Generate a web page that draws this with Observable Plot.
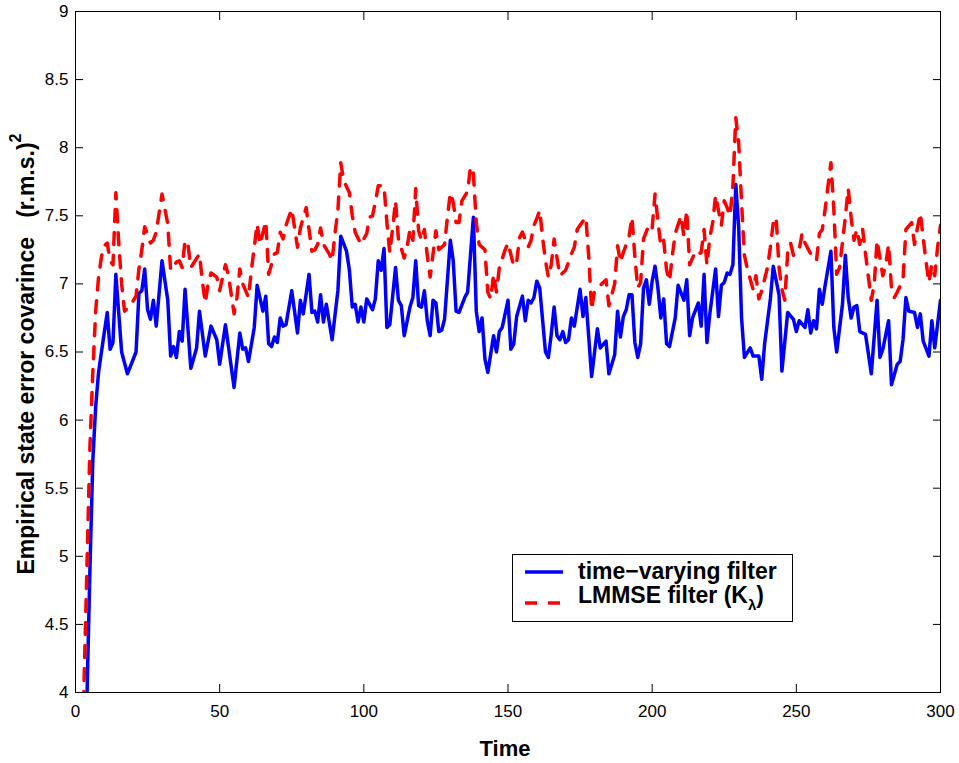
<!DOCTYPE html>
<html>
<head>
<meta charset="utf-8">
<script src="https://cdn.jsdelivr.net/npm/d3@7"></script>
<script src="https://cdn.jsdelivr.net/npm/@observablehq/plot@0.6"></script>
<style>
  html, body { margin: 0; padding: 0; background: #fff; }
  #chart { width: 959px; height: 763px; }
</style>
</head>
<body>
<div id="chart"></div>
<script>
// ---- Data ----
const xTicks = [0, 50, 100, 150, 200, 250, 300];
const yTicks = [4, 4.5, 5, 5.5, 6, 6.5, 7, 7.5, 8, 8.5, 9];

const seriesNames = ["time\u2212varying filter", "LMMSE filter (K", "\u03bb", ")"];

// time-varying filter: [time, value]
const timeVarying = [[1,1.9],[2,2.6],[3,3.3],[4,3.98],[5,4.9],[6,5.7],[7,6.1],[8,6.35],[9,6.5],[11,6.79],[12,6.52],[13,6.57],[14,7.07],[16,6.50],[18,6.34],[21,6.50],[22,6.93],[23,6.95],[24,7.11],[25,6.81],[26,6.74],[27,6.88],[28,6.69],[30,7.17],[32,6.88],[33,6.47],[34,6.54],[35,6.46],[36,6.65],[37,6.58],[38,6.96],[40,6.38],[42,6.53],[43,6.80],[45,6.47],[47,6.69],[49,6.59],[50,6.41],[52,6.70],[55,6.24],[57,6.64],[58,6.52],[59,6.53],[60,6.43],[62,6.68],[63,6.99],[65,6.80],[66,6.91],[67,6.56],[68,6.54],[69,6.61],[70,6.57],[71,6.75],[72,6.69],[73,6.70],[75,6.95],[77,6.64],[78,6.88],[79,6.78],[81,7.07],[82,6.79],[83,6.80],[84,6.72],[85,6.92],[86,6.72],[87,6.85],[89,6.59],[91,6.95],[92,7.35],[94,7.24],[95,7.10],[96,6.83],[97,6.85],[98,6.72],[99,6.83],[100,6.72],[101,6.89],[103,6.81],[104,6.89],[105,7.17],[106,7.10],[107,7.26],[108,6.68],[109,6.70],[111,7.12],[112,6.88],[113,6.84],[114,6.62],[116,6.83],[117,6.90],[118,7.17],[119,6.84],[120,6.83],[121,6.95],[122,6.73],[123,6.62],[124,6.88],[125,6.86],[126,6.65],[127,6.66],[128,6.74],[130,7.32],[131,7.17],[132,6.80],[133,6.79],[135,6.90],[136,6.94],[138,7.49],[139,6.80],[140,6.65],[141,6.75],[142,6.45],[143,6.35],[145,6.62],[146,6.50],[147,6.65],[148,6.68],[150,6.88],[151,6.52],[152,6.56],[153,6.76],[155,6.91],[156,6.73],[157,6.88],[158,6.86],[159,6.90],[160,7.02],[161,6.97],[163,6.50],[164,6.46],[165,6.63],[166,6.83],[167,6.62],[168,6.59],[169,6.65],[170,6.57],[171,6.59],[172,6.75],[173,6.69],[175,6.96],[176,6.76],[177,6.90],[179,6.32],[181,6.67],[182,6.53],[184,6.58],[185,6.34],[187,6.48],[188,6.80],[189,6.61],[190,6.76],[191,6.81],[192,6.92],[193,6.92],[194,6.57],[195,6.46],[196,6.56],[197,6.97],[198,7.03],[199,6.85],[200,7.02],[201,7.13],[202,6.97],[203,6.75],[204,6.89],[205,6.56],[206,6.54],[208,6.75],[209,6.99],[211,6.88],[212,7.03],[213,6.62],[214,6.75],[216,6.86],[217,6.69],[218,7.07],[219,6.57],[220,6.78],[222,7.11],[223,6.76],[224,6.99],[225,7.01],[226,7.08],[227,7.07],[228,7.14],[229,7.73],[230,7.42],[231,6.75],[232,6.46],[234,6.53],[235,6.47],[237,6.47],[238,6.30],[239,6.56],[241,6.89],[242,7.13],[244,6.92],[245,6.36],[247,6.79],[249,6.74],[250,6.65],[251,6.73],[253,6.68],[254,6.81],[255,6.64],[256,6.73],[257,6.67],[258,6.96],[259,6.85],[260,6.99],[262,7.24],[263,6.68],[264,6.50],[266,6.85],[267,7.21],[268,6.90],[269,6.75],[270,6.83],[271,6.84],[272,6.65],[274,6.63],[276,6.34],[278,6.88],[279,6.46],[280,6.52],[282,6.73],[283,6.26],[285,6.41],[286,6.43],[287,6.59],[288,6.90],[289,6.80],[291,6.79],[292,6.68],[293,6.78],[294,6.58],[296,6.47],[297,6.73],[298,6.53],[300,6.88]];

// LMMSE filter (K_lambda): [time, value]
const lmmse = [[1,2.4],[2,3.2],[3,4.1],[4,4.95],[5,5.8],[6,6.35],[7,6.8],[8,7.05],[9,7.2],[10,7.28],[11,7.3],[12,7.17],[13,7.14],[14,7.67],[15,7.3],[16,7.0],[17,6.8],[19,6.84],[21,6.91],[22,7.11],[23,7.25],[24,7.42],[25,7.36],[26,7.3],[27,7.32],[28,7.38],[30,7.66],[32,7.44],[33,7.1],[35,7.16],[36,7.17],[37,7.12],[38,7.32],[39,7.29],[40,7.12],[43,7.22],[44,7.02],[45,6.86],[46,7.0],[47,7.08],[49,7.05],[50,6.95],[52,7.14],[53,7.07],[55,6.78],[56,6.9],[57,7.11],[58,7.0],[60,6.9],[61,7.1],[62,7.27],[63,7.44],[64,7.29],[66,7.46],[67,7.07],[69,7.22],[70,7.23],[71,7.38],[72,7.33],[73,7.43],[75,7.55],[77,7.27],[78,7.41],[80,7.56],[82,7.24],[83,7.25],[84,7.29],[85,7.41],[86,7.29],[88,7.22],[89,7.17],[90,7.37],[91,7.54],[92,7.89],[93,7.76],[95,7.67],[96,7.5],[97,7.38],[99,7.29],[101,7.37],[102,7.49],[103,7.5],[104,7.6],[105,7.72],[107,7.72],[108,7.45],[109,7.23],[110,7.41],[111,7.61],[112,7.33],[114,7.19],[115,7.27],[116,7.4],[117,7.32],[118,7.7],[119,7.39],[120,7.32],[121,7.4],[122,7.21],[123,7.05],[124,7.22],[125,7.39],[126,7.25],[128,7.29],[129,7.49],[130,7.67],[131,7.6],[132,7.45],[133,7.45],[134,7.61],[136,7.68],[137,7.86],[138,7.81],[139,7.45],[140,7.29],[142,7.25],[143,6.94],[144,6.89],[145,7.07],[146,6.94],[147,7.12],[149,7.25],[150,7.3],[152,7.13],[153,7.16],[154,7.34],[155,7.38],[157,7.27],[158,7.32],[159,7.43],[160,7.48],[161,7.54],[162,7.34],[163,7.17],[164,7.05],[165,7.14],[166,7.33],[167,7.19],[168,7.06],[170,7.1],[172,7.22],[173,7.27],[174,7.4],[175,7.43],[177,7.49],[178,7.2],[179,6.81],[180,6.95],[182,6.99],[184,7.03],[185,6.84],[187,7.0],[188,7.28],[189,7.16],[190,7.23],[192,7.35],[193,7.49],[194,7.2],[195,6.97],[196,7.01],[197,7.33],[199,7.44],[200,7.41],[201,7.66],[202,7.46],[203,7.28],[204,7.32],[205,7.1],[206,7.02],[207,7.21],[208,7.37],[210,7.5],[211,7.35],[212,7.54],[213,7.14],[215,7.24],[216,7.22],[217,7.23],[218,7.4],[219,7.14],[220,7.34],[221,7.45],[222,7.65],[223,7.54],[224,7.43],[225,7.61],[226,7.56],[227,7.5],[228,7.72],[229,8.22],[230,8.04],[231,7.6],[232,7.21],[233,7.11],[235,6.96],[236,7.06],[237,6.89],[238,6.95],[240,7.12],[241,7.27],[242,7.45],[243,7.49],[244,7.12],[245,6.96],[246,6.88],[247,7.23],[248,7.3],[249,7.21],[251,7.25],[252,7.37],[253,7.3],[255,7.22],[256,7.19],[257,7.17],[258,7.37],[259,7.4],[260,7.55],[261,7.72],[262,7.89],[263,7.55],[264,7.07],[265,7.12],[267,7.49],[268,7.7],[269,7.49],[270,7.32],[271,7.4],[272,7.29],[273,7.4],[274,7.22],[275,7.05],[276,6.88],[277,6.99],[278,7.32],[280,7.06],[281,7.14],[282,7.29],[283,6.97],[284,6.9],[285,6.94],[287,7.03],[288,7.4],[290,7.45],[291,7.29],[292,7.41],[293,7.52],[294,7.34],[295,7.16],[296,7.01],[297,7.14],[298,7.06],[299,7.27],[300,7.43]];

// ---- Chart ----
const FONT = "'Liberation Sans', Arial, Helvetica, sans-serif";
const blueData = timeVarying.map(([t, v]) => ({t, v}));
const redData = lmmse.map(([t, v]) => ({t, v}));
const TICK = 8;

const chart = Plot.plot({
  width: 959,
  height: 763,
  marginTop: 11,
  marginRight: 19,
  marginBottom: 71,
  marginLeft: 75,
  style: {background: "#fff", color: "#000", fontFamily: FONT, fontSize: "17px", overflow: "visible"},
  x: {domain: [0, 300]},
  y: {domain: [4, 9]},
  marks: [
    Plot.line(blueData, {x: "t", y: "v", stroke: "#0000ff", strokeWidth: 3.5, clip: true}),
    Plot.line(redData, {x: "t", y: "v", stroke: "#ff0000", strokeWidth: 3.5, strokeDasharray: "12,11", clip: true}),
    Plot.frame({stroke: "#000", strokeWidth: 1}),
    // inward tick marks on all four sides
    Plot.axisX({anchor: "bottom", ticks: xTicks, tickSize: TICK, insetBottom: TICK, tickFormat: () => "", label: null}),
    Plot.axisX({anchor: "top", ticks: xTicks, tickSize: TICK, insetTop: TICK, tickFormat: () => "", label: null}),
    Plot.axisY({anchor: "left", ticks: yTicks, tickSize: TICK, insetLeft: TICK, tickFormat: () => "", label: null}),
    Plot.axisY({anchor: "right", ticks: yTicks, tickSize: TICK, insetRight: TICK, tickFormat: () => "", label: null}),
    // tick labels
    Plot.axisX({anchor: "bottom", ticks: xTicks, tickSize: 0, tickPadding: 12, label: null, tickFormat: d => String(d)}),
    Plot.axisY({anchor: "left", ticks: yTicks, tickSize: 0, tickPadding: 7, label: null, tickFormat: d => String(d)}),
    Plot.text(["Time"], {frameAnchor: "bottom", dx: -3, dy: 56, fontWeight: "bold", fontSize: 22, fill: "#000", lineAnchor: "middle"})
  ]
});
document.getElementById("chart").appendChild(chart);

// ---- Y-axis title with superscript ----
const svg = d3.select(chart);
const yt = svg.append("text")
  .attr("transform", "translate(34,354) rotate(-90)")
  .attr("text-anchor", "middle")
  .attr("font-family", FONT)
  .attr("font-weight", "bold")
  .attr("font-size", 23)
  .attr("fill", "#000");
yt.append("tspan").text("Empirical state error covarince\u00a0\u00a0\u00a0(r.m.s.)");
yt.append("tspan").attr("dy", -13).attr("font-size", 16).text("2");

// ---- Legend ----
const lg = svg.append("g").attr("font-family", FONT).attr("font-weight", "bold").attr("font-size", 23)
  .attr("fill", "#000").attr("text-anchor", "start");
lg.append("rect").attr("x", 512.5).attr("y", 554.5).attr("width", 280).attr("height", 67)
  .attr("fill", "#fff").attr("stroke", "#000").attr("stroke-width", 1);
lg.append("line").attr("x1", 525).attr("x2", 563).attr("y1", 572).attr("y2", 572)
  .attr("stroke", "#0000ff").attr("stroke-width", 3.5);
lg.append("line").attr("x1", 525).attr("x2", 563).attr("y1", 603).attr("y2", 603)
  .attr("stroke", "#ff0000").attr("stroke-width", 3.5).attr("stroke-dasharray", "12,11");
lg.append("text").attr("x", 578).attr("y", 579).attr("text-anchor", "start").text(seriesNames[0]);
const t2 = lg.append("text").attr("x", 578).attr("y", 603).attr("text-anchor", "start");
t2.append("tspan").text(seriesNames[1]);
t2.append("tspan").attr("dy", 7).attr("font-size", 15).text(seriesNames[2]);
t2.append("tspan").attr("dy", -7).text(seriesNames[3]);
</script>
</body>
</html>
